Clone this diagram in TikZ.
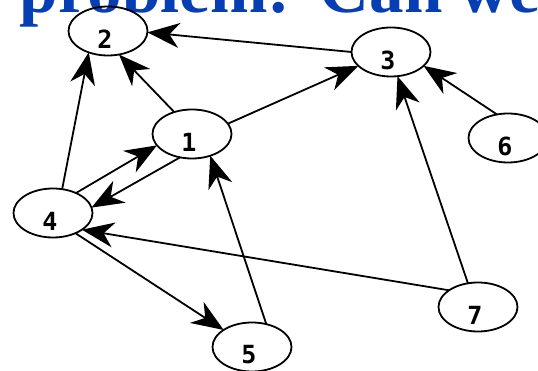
\documentclass[tikz,border=0pt]{standalone}
\usepackage{fontspec}
\setmainfont{Liberation Serif}
\newfontfamily\digitfont{DejaVu Sans Mono}
\usetikzlibrary{shapes.geometric,arrows.meta}
\definecolor{titleblue}{RGB}{8,62,180}
\tikzset{
  vertex/.style={ellipse, draw=black, line width=1.8pt, minimum width=79pt, minimum height=49pt, inner sep=0pt, outer sep=0pt},
  vlabel/.style={font=\digitfont\bfseries\fontsize{25}{25}\selectfont, inner sep=0pt, xshift=-3pt, yshift=-8pt},
  arr/.style={line width=1.8pt, -{Stealth[length=32pt, width=25pt, inset=10pt]}},
}
\begin{document}
\begin{tikzpicture}[x=1pt,y=1pt]
\useasboundingbox (0,0) rectangle (538,371);
\clip (0,0) rectangle (538,371);
\node[font=\bfseries\fontsize{69}{69}\selectfont, text=titleblue, anchor=base west, inner sep=0pt] (title) at (-32,358) {y problem:\hspace{6pt} Can we};
\node[vertex] (n1) at (192,237) {};
\node[vertex] (n2) at (108,340) {};
\node[vertex] (n3) at (391,319) {};
\node[vertex] (n4) at (53,158) {};
\node[vertex] (n5) at (252,24) {};
\node[vertex] (n6) at (508,233) {};
\node[vertex] (n7) at (478,64) {};
\node[vlabel] (l1) at (n1) {1};
\node[vlabel] (l2) at (n2) {2};
\node[vlabel] (l3) at (n3) {3};
\node[vlabel] (l4) at (n4) {4};
\node[vlabel] (l5) at (n5) {5};
\node[vlabel] (l6) at (n6) {6};
\node[vlabel] (l7) at (n7) {7};
\draw[arr] (n3.180) -- (n2.358);
\draw[arr] (n1.129) -- (n2.295);
\draw[arr] (n1.16) -- (n3.203);
\draw[arr] (n6.115) -- (n3.337);
\draw[arr] (n7.113) -- (n3.285);
\draw[arr] (n4.69) -- (n2.228);
\draw[arr] (n4.41) -- (n1.198);
\draw[arr] (n1.243) -- (n4.8);
\draw[arr] (n7.150) -- (n4.330);
\draw[arr] (n4.318) -- (n5.149);
\draw[arr] (n5.58) -- (n1.310);
\end{tikzpicture}
\end{document}
